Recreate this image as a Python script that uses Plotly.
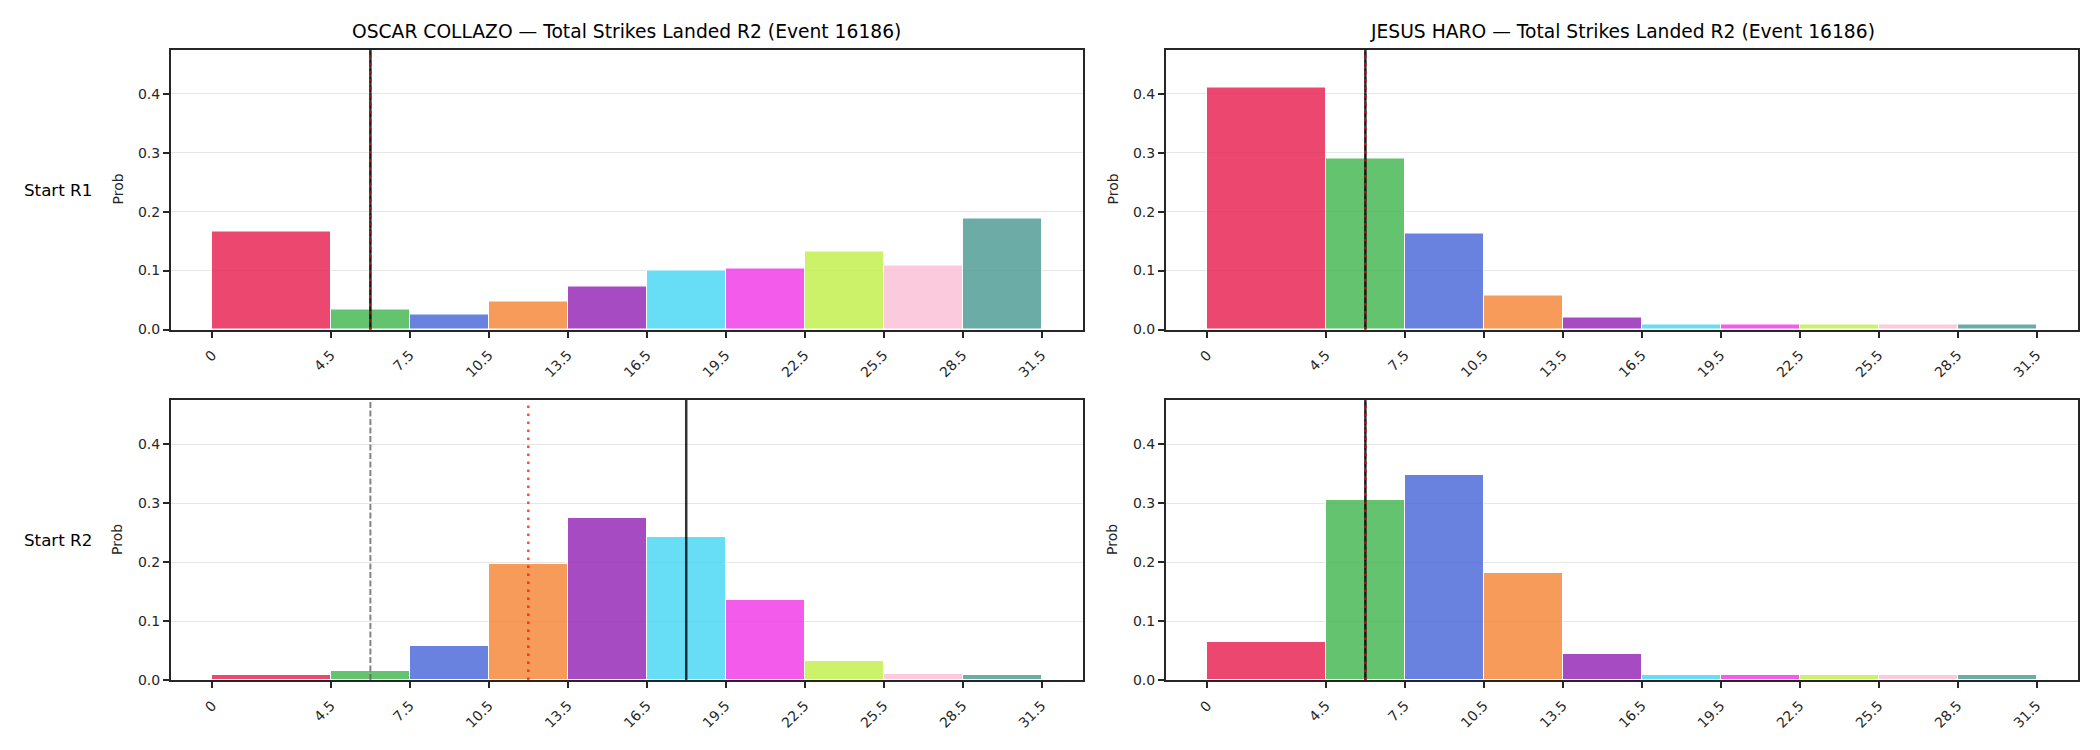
import plotly.graph_objects as go

# ---- data ----
bin_edges = [0, 4.5, 7.5, 10.5, 13.5, 16.5, 19.5, 22.5, 25.5, 28.5, 31.5]
tick_labels = ["0", "4.5", "7.5", "10.5", "13.5", "16.5", "19.5", "22.5", "25.5", "28.5", "31.5"]

collazo_r1 = [0.166, 0.034, 0.026, 0.047, 0.073, 0.100, 0.104, 0.132, 0.108, 0.189]
haro_r1 = [0.411, 0.290, 0.163, 0.058, 0.020, 0.0085, 0.0085, 0.0085, 0.0085, 0.0085]
collazo_r2 = [0.009, 0.015, 0.058, 0.197, 0.274, 0.243, 0.136, 0.032, 0.010, 0.0085]
haro_r2 = [0.065, 0.306, 0.347, 0.182, 0.044, 0.0085, 0.0085, 0.0085, 0.0085, 0.0085]

# vertical reference lines per panel (TL, TR, BL, BR)
line_dashed_gray = [6.0, 6.0, 6.0, 6.0]
line_black = [6.0, 6.0, 18.0, 6.0]
line_red_dotted = [6.0, 6.0, 12.0, 6.0]

titles = ["OSCAR COLLAZO — Total Strikes Landed R2 (Event 16186)",
          "JESUS HARO — Total Strikes Landed R2 (Event 16186)"]
row_labels = ["Start R1", "Start R2"]

bar_colors = ["rgba(230,25,75,0.8)", "rgba(60,180,75,0.8)", "rgba(67,99,216,0.8)",
              "rgba(245,130,49,0.8)", "rgba(145,30,180,0.8)", "rgba(66,212,244,0.8)",
              "rgba(240,50,230,0.8)", "rgba(191,239,69,0.8)", "rgba(250,190,212,0.8)",
              "rgba(70,153,144,0.8)"]

# ---- figure ----
W, H = 2100, 750
panels = [collazo_r1, haro_r1, collazo_r2, haro_r2]
xdom = [[171 / W, 1083 / W], [1166 / W, 2078 / W]]
ydom = [[1 - 329.5 / H, 1 - 49.5 / H], [1 - 680 / H, 1 - 400 / H]]

centers = [(bin_edges[i] + bin_edges[i + 1]) / 2 for i in range(len(bin_edges) - 1)]
widths = [bin_edges[i + 1] - bin_edges[i] for i in range(len(bin_edges) - 1)]

fig = go.Figure()
FONT = "DejaVu Sans"
TXT = "#262626"
layout = {}
shapes = []
annotations = []

for k, vals in enumerate(panels):
    r, c = divmod(k, 2)
    n = k + 1
    xa = "x" if n == 1 else f"x{n}"
    ya = "y" if n == 1 else f"y{n}"
    fig.add_trace(go.Bar(
        x=centers, y=vals, width=widths,
        marker=dict(color=bar_colors, line=dict(color="white", width=1)),
        xaxis=xa, yaxis=ya, showlegend=False,
    ))
    xkey = "xaxis" if n == 1 else f"xaxis{n}"
    ykey = "yaxis" if n == 1 else f"yaxis{n}"
    layout[xkey] = dict(
        domain=xdom[c], anchor=ya, range=[-1.575, 33.075],
        tickmode="array", tickvals=bin_edges, ticktext=tick_labels, tickangle=-45,
        ticks="outside", ticklen=6, tickwidth=2, tickcolor="#262626",
        ticklabelstandoff=4,
        showline=True, linecolor="#262626", linewidth=2, mirror=True,
        showgrid=False, zeroline=False, automargin=False,
        tickfont=dict(family=FONT, size=14, color=TXT),
    )
    layout[ykey] = dict(
        domain=ydom[r], anchor=xa, range=[0, 0.475],
        tickmode="array", tickvals=[0, 0.1, 0.2, 0.3, 0.4],
        ticktext=["0.0", "0.1", "0.2", "0.3", "0.4"],
        ticks="outside", ticklen=6, tickwidth=2, tickcolor="#262626",
        showline=True, linecolor="#262626", linewidth=2, mirror=True,
        showgrid=True, gridcolor="#e6e6e6", gridwidth=1, zeroline=False,
        automargin=False, tickfont=dict(family=FONT, size=14, color=TXT),
    )
    # reference lines
    for xv, col, dash, w in [(line_dashed_gray[k], "rgba(100,100,100,0.8)", "6px,2.5px", 2),
                             (line_black[k], "rgba(0,0,0,0.8)", "solid", 2.5),
                             (line_red_dotted[k], "rgba(255,0,0,0.7)", "2.5px,5.5px", 2.5)]:
        shapes.append(dict(type="line", xref=xa, yref=f"{ya} domain",
                           x0=xv, x1=xv, y0=0, y1=1, layer="above",
                           line=dict(color=col, width=w, dash=dash)))
    # Prob label
    annotations.append(dict(
        text="Prob", textangle=-90, showarrow=False,
        xref="paper", yref="paper",
        x=(xdom[c][0] * W - 54) / W, y=(ydom[r][0] + ydom[r][1]) / 2,
        xanchor="center", yanchor="middle",
        font=dict(family=FONT, size=14, color=TXT),
    ))

for c in range(2):
    annotations.append(dict(
        text=titles[c], showarrow=False, xref="paper", yref="paper",
        x=(xdom[c][0] + xdom[c][1]) / 2, y=1 - 31 / H,
        xanchor="center", yanchor="middle",
        font=dict(family=FONT, size=18.7, color="black"),
    ))
for r in range(2):
    annotations.append(dict(
        text=row_labels[r], showarrow=False, xref="paper", yref="paper",
        x=22 / W, y=(ydom[r][0] + ydom[r][1]) / 2,
        xanchor="left", yanchor="middle",
        font=dict(family=FONT, size=16.7, color="black"),
    ))

fig.update_layout(
    width=W, height=H,
    margin=dict(l=0, r=0, t=0, b=0),
    paper_bgcolor="white", plot_bgcolor="white",
    bargap=0, shapes=shapes, annotations=annotations,
    **layout,
)

fig.write_html("out.html")
